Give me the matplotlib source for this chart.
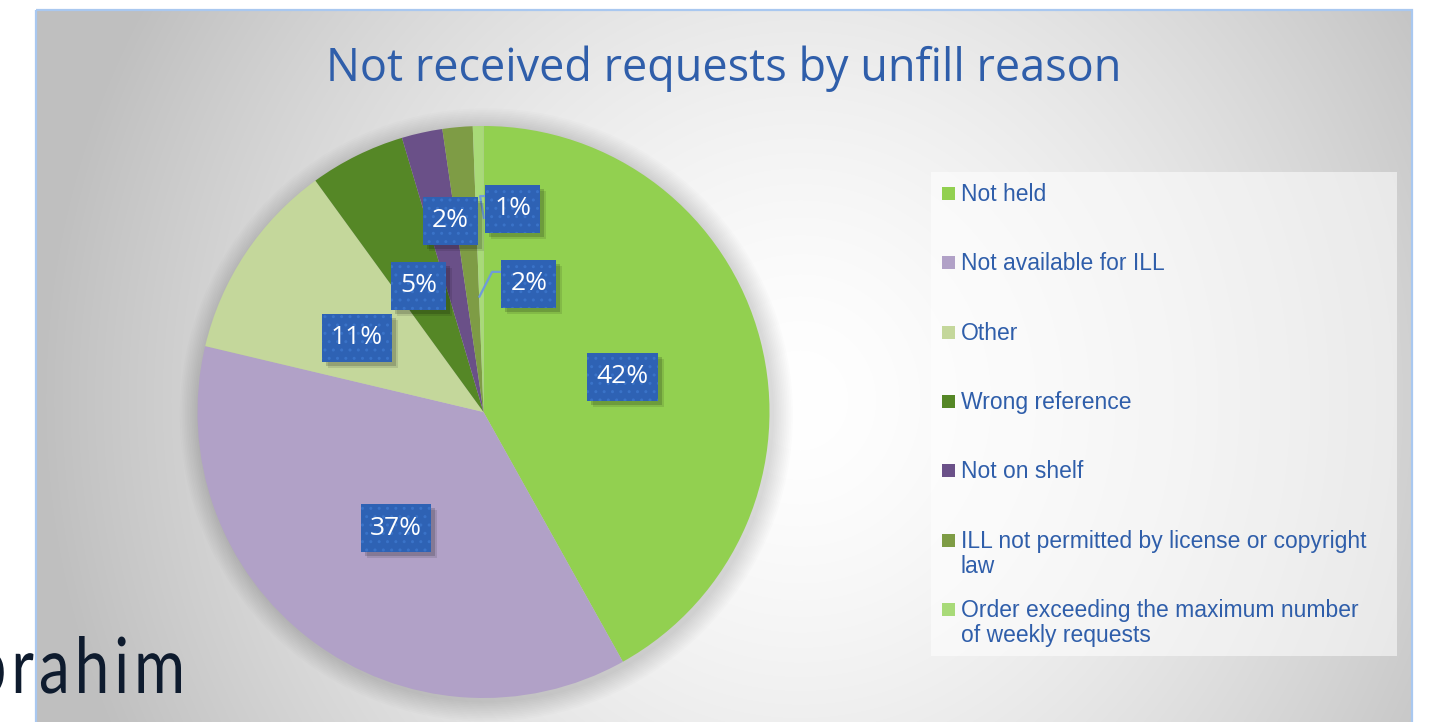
import numpy as np
import matplotlib
matplotlib.use("Agg")
import matplotlib.pyplot as plt
from matplotlib.patches import Rectangle, Circle, PathPatch
from matplotlib.textpath import TextPath, TextToPath
from matplotlib.font_manager import FontProperties
import matplotlib.transforms as mtransforms

# ---------------- data ----------------
title = "Not received requests by unfill reason"
categories = ["Not held", "Not available for ILL", "Other", "Wrong reference",
              "Not on shelf", "ILL not permitted by license or copyright law",
              "Order exceeding the maximum number of weekly requests"]
legend_labels = ["Not held", "Not available for ILL", "Other", "Wrong reference",
                 "Not on shelf", "ILL not permitted by license or copyright\nlaw",
                 "Order exceeding the maximum number\nof weekly requests"]
shares = [41.9, 36.8, 11.3, 5.4, 2.3, 1.7, 0.6]
slice_colors = ["#92D050", "#B1A1C7", "#C4D79B", "#558726", "#6A5088", "#7E9C45", "#A8DA78"]
name_text = "Ibrahim"

# ---------------- style ----------------
W, H = 1430, 722
BLUE = "#2E62B4"
TXT = "#2F5EAA"
plt.rcParams['hatch.linewidth'] = 1.0

fig = plt.figure(figsize=(W / 100, H / 100), dpi=100)
fig.patch.set_facecolor("white")

# background axes in pixel coordinates
bg = fig.add_axes([0, 0, 1, 1])
bg.set_xlim(0, W)
bg.set_ylim(H, 0)
bg.axis("off")

x0, x1, y0, y1 = 36, 1412, 10, 740
yy, xx = np.mgrid[y0:y1, x0:x1]
cx, cy = 800, 400
d = np.sqrt(((xx - cx) / 1.0) ** 2 + ((yy - cy) / 1.05) ** 2)
g = 1 - 0.25 * np.clip(d / 760, 0, 1) ** 1.5
img = np.dstack([g, g, g])
bg.imshow(img, extent=(x0, x1, y1, y0), zorder=0, interpolation="bilinear")
bg.add_patch(Rectangle((x0, y0), x1 - x0, y1 - y0, fill=False,
                       edgecolor="#A9C8F0", lw=1.6, zorder=1))

bg.text((x0 + x1) / 2, 69, title, ha="center", va="center", fontsize=32.4,
        color=TXT, family="Open Sans", zorder=3)

# legend
lx0, ly0, lx1, ly1 = 931, 172, 1397, 656
bg.add_patch(Rectangle((lx0, ly0), lx1 - lx0, ly1 - ly0, facecolor="white",
                       alpha=0.55, edgecolor="none", zorder=2))
entry_y = [193, 262, 332, 401, 470, 540, 609]
for lab, col, ey in zip(legend_labels, slice_colors, entry_y):
    bg.add_patch(Rectangle((942, ey - 6.5), 13, 13, facecolor=col,
                           edgecolor="none", zorder=3))
    bg.text(961, ey - 10, lab, ha="left", va="top", fontsize=16.5,
            color=TXT, family="Liberation Sans", linespacing=1.12, zorder=3)

# partial name at bottom-left (condensed glyph outlines with extra tracking)
nprop = FontProperties(family="Lato")
t2p = TextToPath()
hp = TextPath((0, 0), "h", size=100, prop=nprop).get_extents()
sy = 57 / hp.y1
sx = sy * 0.80
track = 5.0  # px between letters
np100 = nprop.copy(); np100.set_size(100)
adv = [t2p.get_text_width_height_descent(name_text[:i], np100, ismath=False)[0]
       if i > 0 else 0.0 for i in range(len(name_text) + 1)]
last = TextPath((0, 0), name_text[-1], size=100, prop=nprop).get_extents()
total_right = adv[-2] * sx + track * (len(name_text) - 1) + last.x1 * sx
shift = 181 - total_right
for i, ch in enumerate(name_text):
    cp = TextPath((0, 0), ch, size=100, prop=nprop)
    ox = shift + adv[i] * sx + track * i
    tr = mtransforms.Affine2D().scale(sx, -sy).translate(ox, 693)
    bg.add_patch(PathPatch(tr.transform_path(cp), facecolor="#0E1B2E",
                           edgecolor="none", zorder=5))

# ---------------- pie ----------------
pcx, pcy, R = 483.5, 412, 286
half = 330
pa = fig.add_axes([(pcx - half) / W, (H - pcy - half) / H, 2 * half / W, 2 * half / H])
pa.axis("off")
pa.patch.set_alpha(0)

# soft shadow
for k in range(12):
    pa.add_patch(Circle((0.01, -0.01), 1.0 + 0.006 * (12 - k), facecolor="black",
                        alpha=0.013, edgecolor="none", zorder=0))

wedges, _ = pa.pie(shares, colors=slice_colors, startangle=90, counterclock=False,
                   radius=1.0, wedgeprops=dict(linewidth=0, zorder=2))
lim = half / R
pa.set_xlim(-lim, lim)
pa.set_ylim(-lim, lim)
pa.set_aspect("equal")

pct_labels = [f"{round(s):d}%" for s in shares]

label_pos = {}
for i, w in enumerate(wedges):
    mid = np.deg2rad((w.theta1 + w.theta2) / 2)
    label_pos[i] = (0.51 * np.cos(mid), 0.51 * np.sin(mid))
# manually placed labels (Excel moved them)
label_pos[0] = (0.486, 0.123)
label_pos[2] = (-0.442, 0.259)
label_pos[3] = (-0.226, 0.441)
label_pos[4] = (-0.117, 0.668)
label_pos[5] = (0.159, 0.448)
label_pos[6] = (0.103, 0.711)

# leader lines: anchor (inside slice) -> elbow -> box left edge
leaders = {5: [(-0.016, 0.40), (0.030, 0.490), (0.07, 0.490)],
           6: [(0.002, 0.675), (-0.012, 0.755), (0.03, 0.755)]}
for i, pts in leaders.items():
    xs, ys = zip(*pts)
    pa.plot(xs, ys, color="#6F9BDA", lw=1.6, zorder=3, solid_capstyle="butt")

FS = 19
BOX_H = 48
PAD_X = 9
texts = []
for i, (lx, ly) in label_pos.items():
    t = pa.text(lx, ly, pct_labels[i], ha="center", va="center", fontsize=FS,
                color="white", family="Open Sans", zorder=6)
    texts.append((t, lx, ly))

fig.canvas.draw()
renderer = fig.canvas.get_renderer()
ident = mtransforms.IdentityTransform()
for t, lx, ly in texts:
    bb = t.get_window_extent(renderer)
    cxp, cyp = pa.transData.transform((lx, ly))
    bw = bb.width + 2 * PAD_X
    for a, off in [(0.16, 4), (0.10, 6)]:
        pa.add_patch(Rectangle((cxp - bw / 2 + off, cyp - BOX_H / 2 - off), bw, BOX_H,
                               transform=ident, facecolor="black", alpha=a,
                               edgecolor="none", zorder=4))
    pa.add_patch(Rectangle((cxp - bw / 2, cyp - BOX_H / 2), bw, BOX_H,
                           transform=ident, facecolor=BLUE, hatch="..",
                           edgecolor="#3A73C8", linewidth=0, zorder=5))

fig.savefig("out.png", dpi=100)
